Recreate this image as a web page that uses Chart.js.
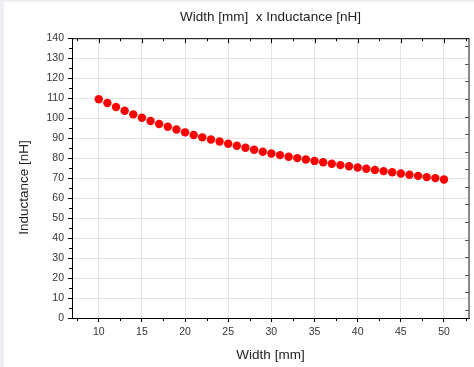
<!DOCTYPE html>
<html>
<head>
<meta charset="utf-8">
<script src="https://cdn.jsdelivr.net/npm/chart.js@4"></script>
<style>
  html, body { margin: 0; padding: 0; background: #eceef1; width: 474px; height: 367px; overflow: hidden; }
  #bg { position: absolute; left: 4px; top: 2px; right: 0; bottom: 0; background: #ffffff; }
  #c { position: absolute; left: 0; top: 0; }
</style>
</head>
<body>
<div id="bg"></div>
<canvas id="c" width="474" height="367"></canvas>
<script>
const chartTitle = 'Width [mm]  x Inductance [nH]';
const xTitle = 'Width [mm]';
const yTitle = 'Inductance [nH]     ';

const widths = [10, 11, 12, 13, 14, 15, 16, 17, 18, 19, 20,
                21, 22, 23, 24, 25, 26, 27, 28, 29, 30,
                31, 32, 33, 34, 35, 36, 37, 38, 39, 40,
                41, 42, 43, 44, 45, 46, 47, 48, 49, 50];
const inductance = [109.5, 107.6, 105.6, 103.7, 101.9, 100.2, 98.6, 97.1, 95.7, 94.3, 92.9,
                    91.6, 90.4, 89.3, 88.3, 87.2, 86.2, 85.2, 84.2, 83.2, 82.3,
                    81.5, 80.7, 80.0, 79.3, 78.6, 77.9, 77.2, 76.5, 75.9, 75.3,
                    74.7, 74.1, 73.5, 72.9, 72.3, 71.7, 71.1, 70.5, 70.0, 69.3];

const xTicks = [10, 15, 20, 25, 30, 35, 40, 45, 50];
const xMinorTicks = [7.5, 12.5, 17.5, 22.5, 27.5, 32.5, 37.5, 42.5, 47.5, 52.5];
const yTicks = [0, 10, 20, 30, 40, 50, 60, 70, 80, 90, 100, 110, 120, 130, 140];
const yMinorTicks = [5, 15, 25, 35, 45, 55, 65, 75, 85, 95, 105, 115, 125, 135];
const rightTicks = [4, 12.8, 21.6, 30.4, 39.2, 48, 56.8, 65.6, 74.4, 83.2, 92, 100.8, 109.6, 118.4, 127.2, 136];

const FONT = '"Liberation Sans", Arial, sans-serif';

const framePlugin = {
  id: 'frame',
  afterDraw(chart) {
    const { ctx, chartArea: a, scales } = chart;
    const x = scales.x, y = scales.y;
    ctx.save();
    ctx.strokeStyle = '#8a8a8a';
    ctx.lineWidth = 2;
    ctx.beginPath();
    ctx.moveTo(a.right, a.top);
    ctx.lineTo(a.right, a.bottom);
    ctx.stroke();
    ctx.lineWidth = 1;
    ctx.strokeStyle = '#555';
    ctx.beginPath();
    rightTicks.forEach(v => {
      const py = Math.round(y.getPixelForValue(v)) + 0.5;
      ctx.moveTo(a.right - 4, py);
      ctx.lineTo(a.right, py);
    });
    ctx.stroke();
    ctx.strokeStyle = '#000';
    ctx.lineWidth = 1;
    ctx.beginPath();
    ctx.moveTo(a.left, a.top + 0.5);
    ctx.lineTo(a.right, a.top + 0.5);
    ctx.stroke();
    ctx.beginPath();
    xTicks.forEach(v => {
      const px = Math.round(x.getPixelForValue(v)) + 0.5;
      ctx.moveTo(px, a.top);
      ctx.lineTo(px, a.top + 5);
    });
    xMinorTicks.forEach(v => {
      const px = Math.round(x.getPixelForValue(v)) + 0.5;
      if (px > a.left && px < a.right) {
        ctx.moveTo(px, a.top);
        ctx.lineTo(px, a.top + 3);
      }
    });
    ctx.stroke();
    ctx.beginPath();
    xMinorTicks.forEach(v => {
      const px = Math.round(x.getPixelForValue(v)) + 0.5;
      if (px > a.left && px < a.right) {
        ctx.moveTo(px, a.bottom);
        ctx.lineTo(px, a.bottom + 3);
      }
    });
    yMinorTicks.forEach(v => {
      const py = Math.round(y.getPixelForValue(v)) + 0.5;
      ctx.moveTo(a.left - 3, py);
      ctx.lineTo(a.left, py);
    });
    ctx.stroke();
    ctx.restore();
  }
};

new Chart(document.getElementById('c'), {
  type: 'scatter',
  data: {
    datasets: [{
      data: widths.map((w, i) => ({ x: w, y: inductance[i] })),
      backgroundColor: '#ff0000',
      borderColor: '#ff0000',
      pointRadius: 4.2,
      pointBorderWidth: 0,
      showLine: false
    }]
  },
  options: {
    responsive: false,
    animation: false,
    devicePixelRatio: 1,
    layout: { padding: { left: 0, right: 5, top: 0, bottom: 0 } },
    plugins: {
      legend: { display: false },
      tooltip: { enabled: false },
      title: {
        display: true,
        fullSize: false,
        text: chartTitle,
        color: '#222',
        font: { family: FONT, size: 13.5, weight: 'normal' },
        padding: { top: 9, bottom: 13 }
      }
    },
    scales: {
      x: {
        type: 'linear',
        min: 6.9,
        max: 52.9,
        afterBuildTicks(scale) { scale.ticks = xTicks.map(v => ({ value: v })); },
        afterFit(scale) { scale.height = 49; },
        ticks: {
          color: '#333',
          font: { family: FONT, size: 10.5 },
          padding: 4,
          maxRotation: 0,
          autoSkip: false
        },
        grid: { color: '#e4e4e4', lineWidth: 1, tickColor: '#000', tickLength: 4, drawTicks: true },
        border: { color: '#000', width: 1 },
        title: {
          display: true,
          text: xTitle,
          color: '#222',
          font: { family: FONT, size: 13.5 },
          padding: { top: 4, bottom: 4 }
        }
      },
      y: {
        type: 'linear',
        min: 0,
        max: 140,
        afterBuildTicks(scale) { scale.ticks = yTicks.map(v => ({ value: v })); },
        afterFit(scale) { scale.width = 72; },
        ticks: {
          color: '#333',
          font: { family: FONT, size: 10.5 },
          padding: 4,
          autoSkip: false
        },
        grid: { color: '#e4e4e4', lineWidth: 1, tickColor: '#000', tickLength: 4, drawTicks: true },
        border: { color: '#000', width: 1 },
        title: {
          display: true,
          text: yTitle,
          color: '#222',
          font: { family: FONT, size: 13.5 },
          padding: { top: 16, bottom: 4 }
        }
      }
    }
  },
  plugins: [framePlugin]
});
</script>
</body>
</html>
